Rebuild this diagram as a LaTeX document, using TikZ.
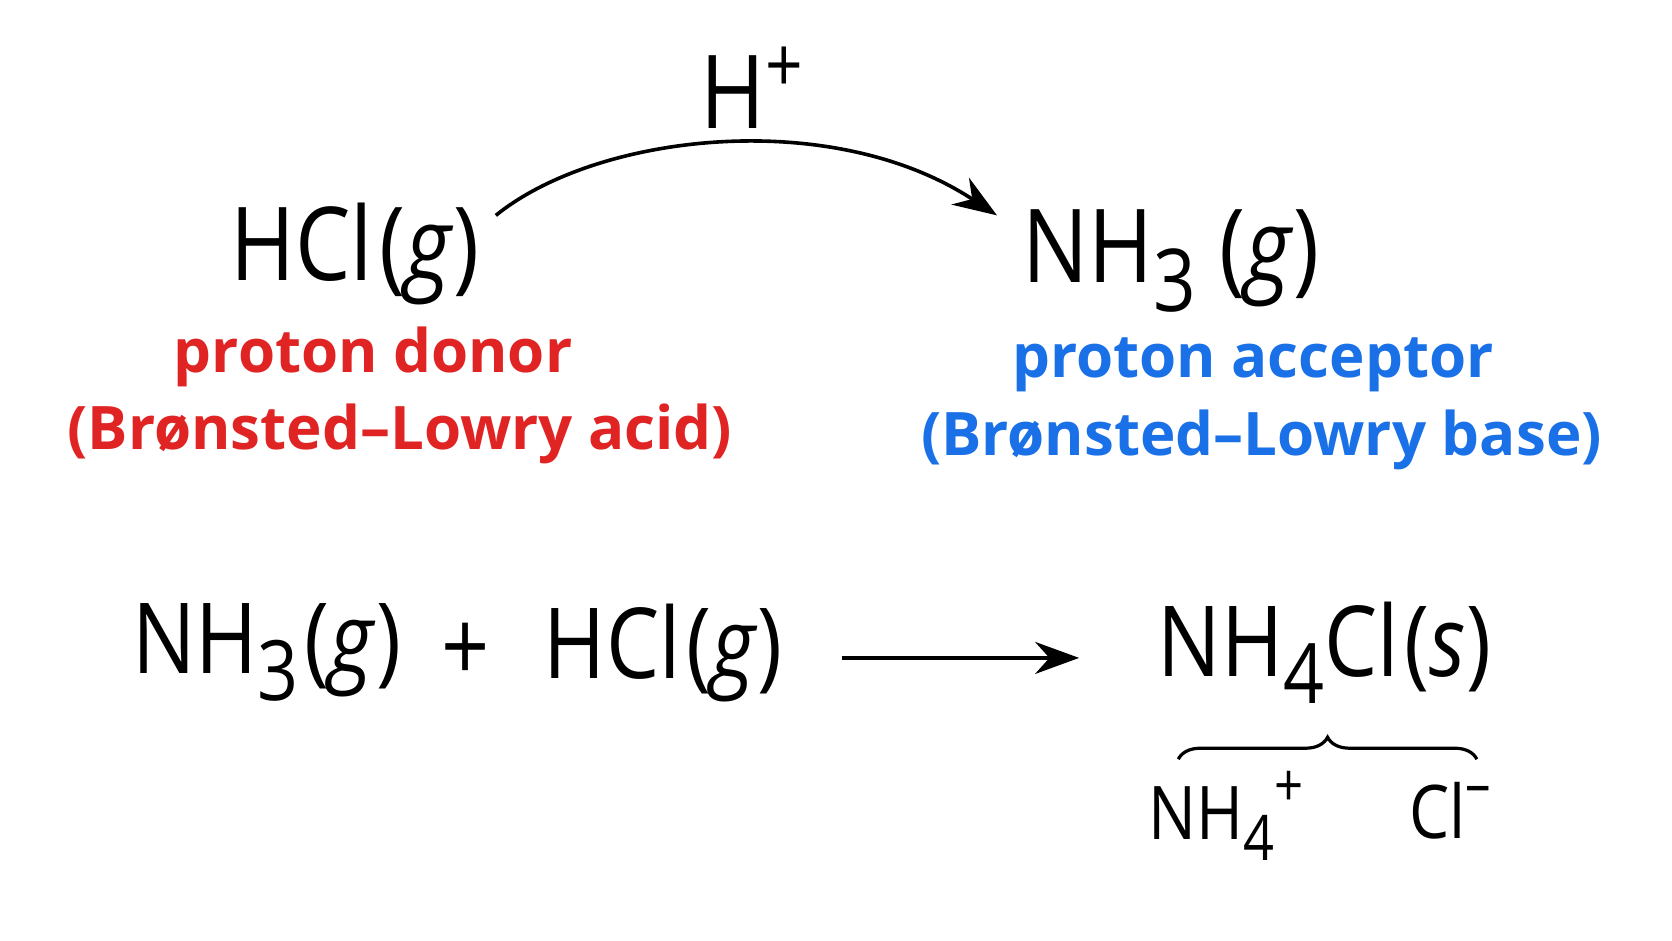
\documentclass[tikz,border=0pt]{standalone}
\usepackage{fontspec}
\setmainfont{Open Sans}
\newfontfamily\formfont[FakeStretch=0.86]{Open Sans}
\usetikzlibrary{decorations.pathreplacing,arrows.meta}
\definecolor{accred}{HTML}{E02424}
\definecolor{accblue}{HTML}{1A70E6}
\newcommand{\sbs}[1]{\raisebox{-0.28em}{\scalebox{0.85}{#1}}}
\newcommand{\phs}[1]{\kern0.06em(\textit{#1})}
\begin{document}
\begin{tikzpicture}[x=0.533pt,y=-0.533pt,
  big/.style={inner sep=0pt,font=\formfont\fontsize{51}{56}\selectfont},
  mid/.style={inner sep=0pt,font=\formfont\fontsize{49}{54}\selectfont},
  lab/.style={inner sep=0pt,font=\fontsize{30}{34}\selectfont\bfseries},
  ion/.style={inner sep=0pt,font=\formfont\fontsize{37}{42}\selectfont},
  arr/.style={line width=1.8pt,-{Stealth[length=22pt,width=16pt]}}]
\useasboundingbox (0,0) rectangle (1568,882);
\node[big] (hcl) at (333,238) {HCl\phs{g}};
\node[big] (nh3) at (1098,245) {NH\sbs{3}\,\phs{g}};
\node[big] (hp) at (705,82) {H\raisebox{0.35em}{\scalebox{0.75}{+}}};
\coordinate (a1) at (465,202);
\coordinate (a2) at (935,202);
\draw[arr] (a1) .. controls (560,125) and (780,100) .. (a2);
\node[lab,text=accred] (don) at (350,335) {proton donor};
\node[lab,text=accred] (acid) at (375,407) {(Brønsted–Lowry acid)};
\node[lab,text=accblue] (acc) at (1175,342) {proton acceptor};
\node[lab,text=accblue] (base) at (1183,413) {(Brønsted–Lowry base)};
\node[mid] (r1) at (250,612) {NH\sbs{3}\phs{g}};
\node[mid] (plus) at (437,612) {+};
\node[mid] (r2) at (622,612) {HCl\phs{g}};
\coordinate (b1) at (790,617);
\coordinate (b2) at (1012,617);
\draw[arr] (b1) -- (b2);
\node[mid] (prod) at (1242,612) {NH\sbs{4}Cl\phs{s}};
\coordinate (c1) at (1105,712);
\coordinate (c2) at (1385,712);
\draw[line width=1.6pt,decorate,decoration={brace,amplitude=11pt}] (c1) -- (c2);
\node[ion] (nh4) at (1150,765) {NH\sbs{4}\raisebox{0.45em}{\scalebox{0.8}{+}}};
\node[ion] (cl) at (1360,760) {Cl\raisebox{0.45em}{\scalebox{0.8}{–}}};
\end{tikzpicture}
\end{document}
